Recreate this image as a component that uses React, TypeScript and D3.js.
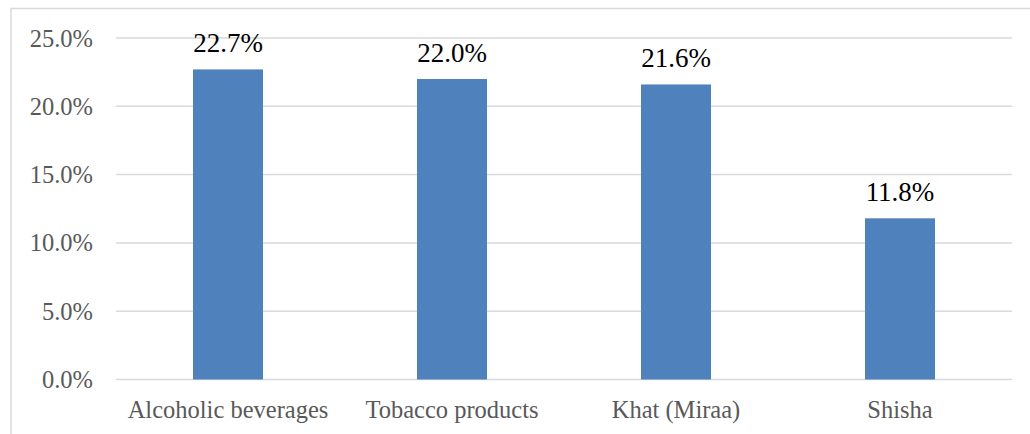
import React from "react";
import * as d3 from "d3";

const categories = ["Alcoholic beverages", "Tobacco products", "Khat (Miraa)", "Shisha"];
const values = [22.7, 22.0, 21.6, 11.8];
const yTicks = [0, 5, 10, 15, 20, 25];

const W = 1030;
const H = 434;
const plotLeft = 116;
const plotRight = 1012;
const yTop = 38;
const yBottom = 379.5;
const FONT = "'Liberation Serif', 'Times New Roman', serif";

export default function App() {
  const x = d3.scaleBand<string>().domain(categories).range([plotLeft, plotRight]).padding(0);
  const y = d3.scaleLinear().domain([0, 25]).range([yBottom, yTop]);
  const barW = x.bandwidth() * 0.3125;

  return (
    <svg
      width={W}
      height={H}
      style={{ position: "absolute", left: 0, top: 0, background: "#fff" }}
    >
      <rect x={11} y={8.5} width={W + 20} height={H + 20} fill="#fff" stroke="#d9d9d9" strokeWidth={1.5} />
      {yTicks.map((t) => (
        <g key={t}>
          <line x1={plotLeft} x2={plotRight} y1={y(t)} y2={y(t)} stroke="#d9d9d9" strokeWidth={1.5} />
          <text
            x={93}
            y={y(t)}
            dy="0.35em"
            textAnchor="end"
            fontFamily={FONT}
            fontSize={24.5}
            fill="#595959"
          >
            {d3.format(".1f")(t) + "%"}
          </text>
        </g>
      ))}
      {categories.map((c, i) => {
        const cx = (x(c) as number) + x.bandwidth() / 2;
        return (
          <g key={c}>
            <rect x={cx - barW / 2} y={y(values[i])} width={barW} height={yBottom - y(values[i])} fill="#4f81bd" />
            <text
              x={cx}
              y={y(values[i]) - 17}
              textAnchor="middle"
              fontFamily={FONT}
              fontSize={27}
              fill="#000"
            >
              {values[i].toFixed(1) + "%"}
            </text>
            <text
              x={cx}
              y={418}
              textAnchor="middle"
              fontFamily={FONT}
              fontSize={24.5}
              fill="#595959"
            >
              {c}
            </text>
          </g>
        );
      })}
    </svg>
  );
}
